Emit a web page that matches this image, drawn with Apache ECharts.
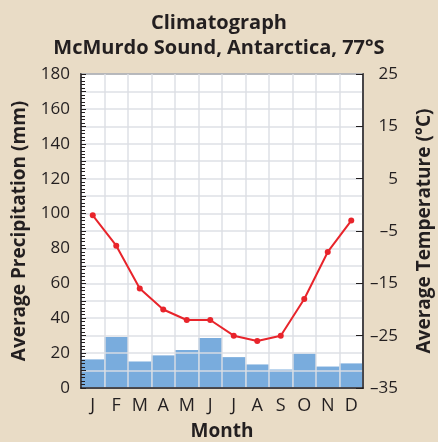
<!DOCTYPE html>
<html><head><meta charset="utf-8">
<script src="https://cdn.jsdelivr.net/npm/echarts@6/dist/echarts.min.js"></script>
<style>html,body{margin:0;padding:0;background:#e9dcc6;}#c{width:438px;height:442px;}</style>
</head><body><div id="c"></div>
<script>
const months = ['J','F','M','A','M','J','J','A','S','O','N','D'];
const precipitation = [16.4, 29.3, 15.2, 18.7, 21.8, 28.7, 17.7, 13.5, 10.6, 19.7, 12.3, 14.1];
const temperature = [-2, -7.8, -16, -20, -22, -22, -25, -26, -25, -18, -9, -3];
const tempTicks = [-35, -25, -15, -5, 5, 15, 25];

const FONT = '"Open Sans", "Noto Sans", sans-serif';
const chart = echarts.init(document.getElementById('c'));
const gridLine = {show: true, lineStyle: {color: 'rgba(220,222,228,0.7)', width: 2}};
chart.setOption({
  backgroundColor: '#e9dcc6',
  animation: false,
  title: {
    text: 'Climatograph\nMcMurdo Sound, Antarctica, 77°S',
    left: 'center', top: 6,
    textStyle: {fontFamily: FONT, fontWeight: 'bold', fontSize: 20, lineHeight: 25, color: '#231f20'}
  },
  grid: {left: 81, right: 75, top: 74, bottom: 54, outerBoundsMode: 'none', containLabel: false,
    show: true, backgroundColor: '#ffffff', borderColor: '#333', borderWidth: 1.5},
  xAxis: {
    type: 'category', data: months, z: 2,
    axisLine: {lineStyle: {color: '#231f20', width: 1.5}},
    axisTick: {show: false},
    splitLine: gridLine,
    axisLabel: {fontFamily: FONT, fontSize: 18, color: '#231f20', margin: 9},
    name: 'Month', nameLocation: 'middle', nameGap: 34,
    nameTextStyle: {fontFamily: FONT, fontWeight: 'bold', fontSize: 19, color: '#231f20'}
  },
  yAxis: [{
    type: 'value', min: 0, max: 180, interval: 10, z: 2,
    axisLine: {show: true, lineStyle: {color: '#231f20', width: 1.5}},
    axisTick: {show: true, inside: true, length: 5, lineStyle: {color: '#231f20'}},
    minorTick: {show: true, splitNumber: 5, length: 4, lineStyle: {color: '#231f20'}},
    splitLine: gridLine,
    axisLabel: {fontFamily: FONT, fontSize: 17, color: '#231f20', margin: 11,
      formatter: v => (v % 20 === 0 ? String(v) : '')},
    name: 'Average Precipitation (mm)', nameLocation: 'middle', nameGap: 52,
    nameTextStyle: {fontFamily: FONT, fontWeight: 'bold', fontSize: 19, color: '#231f20'}
  }, {
    type: 'value', min: -35, max: 25, position: 'right', z: 2,
    axisLine: {show: true, lineStyle: {color: '#231f20', width: 1.5}},
    axisTick: {show: true, inside: true, length: 7, customValues: tempTicks, lineStyle: {color: '#231f20'}},
    splitLine: {show: false},
    axisLabel: {fontFamily: FONT, fontSize: 17, color: '#231f20', margin: 35, align: 'right',
      customValues: tempTicks,
      formatter: v => (v < 0 ? '\u2013' + Math.abs(v) : String(v))},
    name: 'Average Temperature (°C)', nameLocation: 'middle', nameGap: 52, nameRotate: 90,
    nameTextStyle: {fontFamily: FONT, fontWeight: 'bold', fontSize: 19, color: '#231f20'}
  }],
  series: [{
    type: 'bar', data: precipitation, yAxisIndex: 0, z: 1,
    barCategoryGap: '0%', itemStyle: {color: '#79acdd'}
  }, {
    type: 'line', data: temperature, yAxisIndex: 1, z: 5,
    symbol: 'circle', symbolSize: 6,
    lineStyle: {color: '#e8242b', width: 2}, itemStyle: {color: '#e8242b'}
  }]
});
</script></body></html>
